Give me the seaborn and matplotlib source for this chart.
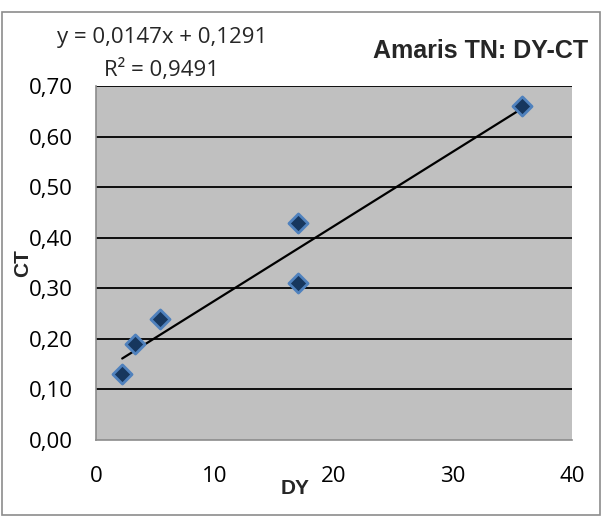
import numpy as np
import pandas as pd
import matplotlib
matplotlib.use("Agg")
import matplotlib.pyplot as plt
import seaborn as sns
from matplotlib.patches import Rectangle

# data
dy = [2.2, 3.3, 5.4, 17.0, 17.0, 35.8]
ct = [0.13, 0.19, 0.24, 0.43, 0.31, 0.66]
y_ticks = [0.0, 0.1, 0.2, 0.3, 0.4, 0.5, 0.6, 0.7]
x_ticks = [0, 10, 20, 30, 40]
title = "Amaris TN: DY-CT"
eq_text = "y = 0,0147x + 0,1291"
r2_text = "R² = 0,9491"

df = pd.DataFrame({"DY": dy, "CT": ct})

sns.set_style("white")
plt.rcParams["font.family"] = ["Open Sans", "DejaVu Sans"]

fig = plt.figure(figsize=(6.02, 5.18), dpi=100)
fig.patches.append(Rectangle((0.004, 0.006), 0.992, 0.97, transform=fig.transFigure,
                             fill=False, edgecolor="#8c8c8c", linewidth=1.2))
ax = fig.add_axes([0.1595, 0.1506, 0.7907, 0.6834])
ax.set_facecolor("#c0c0c0")

# trend line (linear fit over data range)
sns.regplot(data=df, x="DY", y="CT", ax=ax, ci=None, truncate=True, scatter=False,
            line_kws={"color": "black", "linewidth": 1.6, "zorder": 3})
sns.scatterplot(data=df, x="DY", y="CT", ax=ax, marker="D", s=95,
                color="#17375e", edgecolor="#4f81bd", linewidth=2, zorder=4)

ax.set_xlim(0, 40)
ax.set_ylim(0, 0.7)
ax.set_xticks(x_ticks)
ax.set_yticks(y_ticks)
ax.set_xticklabels([str(v) for v in x_ticks], fontsize=16)
ax.set_yticklabels([f"{v:.2f}".replace(".", ",") for v in y_ticks], fontsize=16)
for v in y_ticks[1:]:
    ax.axhline(v, color="black", linewidth=1.3, zorder=1)

for s in ["top", "right"]:
    ax.spines[s].set_visible(False)
for s in ["left", "bottom"]:
    ax.spines[s].set_color("#8c8c8c")
    ax.spines[s].set_linewidth(1.2)
ax.tick_params(axis="both", direction="out", length=6, width=1.2, color="#8c8c8c",
               labelcolor="black", pad=11)
ax.tick_params(axis="x", pad=13)

ax.set_xlabel("")
ax.set_ylabel("")
fig.text(0.037, 0.492, "CT", rotation=90, fontsize=15, fontweight="bold",
         family="Liberation Sans", ha="center", va="center")
fig.text(0.49, 0.056, "DY", fontsize=15, fontweight="bold",
         family="Liberation Sans", ha="center", va="center")
fig.text(0.977, 0.902, title, fontsize=18, fontweight="bold",
         family="Liberation Sans", ha="right", va="center")
fig.text(0.269, 0.927, eq_text, fontsize=16, ha="center", va="center")
fig.text(0.269, 0.865, r2_text, fontsize=16, ha="center", va="center")

fig.savefig("out.png", dpi=100)
